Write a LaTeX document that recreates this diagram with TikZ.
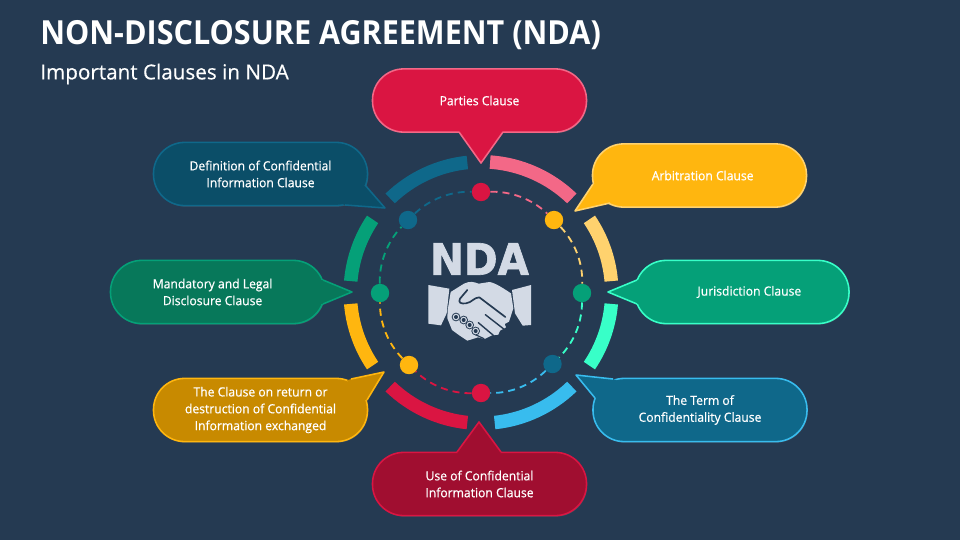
\documentclass[tikz,border=0pt]{standalone}
\usepackage{fontspec}
\setmainfont{Open Sans}
\newfontfamily\ndafont[FakeStretch=0.93, FakeBold=1.5]{DejaVu Sans Bold}
\newfontfamily\titlefont[FakeStretch=0.92]{Open Sans Bold}
\newfontfamily\subtitlefont[FakeBold=0.4]{Open Sans}
\newfontfamily\bubblefont[FakeBold=0.6, FakeStretch=0.96]{Open Sans}
\usepackage{xcolor}
\usetikzlibrary{calc, shadows}
\definecolor{slideBg}{RGB}{37, 58, 82}
\definecolor{handLight}{RGB}{211, 218, 229}
\definecolor{redMain}{RGB}{218, 21, 66}
\definecolor{redLine}{RGB}{243, 104, 135}
\definecolor{redDark}{RGB}{160, 14, 48}
\definecolor{amberMain}{RGB}{255, 182, 15}
\definecolor{amberLine}{RGB}{255, 210, 110}
\definecolor{amberDark}{RGB}{200, 138, 0}
\definecolor{jadeMain}{RGB}{5, 160, 120}
\definecolor{jadeLine}{RGB}{56, 255, 200}
\definecolor{jadeDark}{RGB}{7, 120, 90}
\definecolor{tealMain}{RGB}{15, 104, 138}
\definecolor{tealLine}{RGB}{56, 188, 238}
\definecolor{tealDark}{RGB}{11, 78, 104}
\tikzset{
  bubble/.style={draw, line width=1.1pt, rounded corners=0.78cm, minimum width=5.35cm, minimum height=1.58cm, align=center, text=white, font=\fontsize{9}{12}\selectfont\bubblefont, drop shadow={opacity=0.35, shadow xshift=0.5pt, shadow yshift=-0.7pt}},
  ringdot/.style={circle, inner sep=0pt, minimum size=0.46cm},
  ringdash/.style={line width=1.3pt, dash pattern=on 5pt off 3.6pt, bend left=22.5, looseness=0.88},
}
% tail of a bubble: fill over the node border, then stroke the two free sides
\newcommand{\bubbletail}[6]{
  \fill[#2] ($(#4)!3pt!(#1.center)$) -- (#4) -- (#5) -- (#6) -- ($(#6)!3pt!(#1.center)$) -- cycle;
  \draw[#3, line width=1.1pt, line join=round] (#4) -- (#5) -- (#6);
}
\begin{document}
\begin{tikzpicture}[x=0.025cm, y=-0.025cm]
    \useasboundingbox (0,0) rectangle (960,540);
    \fill[slideBg] (0,0) rectangle (960,540);
    % Heading
    \node[anchor=west, inner sep=0pt, text=white, font=\fontsize{23.6}{26}\selectfont\titlefont] (title) at (40,35) {NON-DISCLOSURE AGREEMENT (NDA)};
    \node[anchor=west, inner sep=0pt, text=white, font=\fontsize{14.7}{17}\selectfont\subtitlefont] (subtitle) at (40,74) {Important Clauses in NDA};
    % Outer ring segments
    \begin{scope}[shift={(481,292.5)}]
      \foreach \a/\b/\c in {-86/-46/redLine, -34/-5/amberLine, 5/34/jadeLine, 46/84/tealLine, 96/134/redMain, 146/175/amberMain, 185/214/jadeMain, 226/264/tealMain}
        \fill[\c] (\a:137.5) arc (\a:\b:137.5) -- (\b:124) arc (\b:\a:124) -- cycle;
    \end{scope}
    % Inner ring
    \node[ringdot, fill=redMain] (dotTop) at (481,192) {};
    \node[ringdot, fill=amberMain] (dotArb) at (554,220) {};
    \node[ringdot, fill=jadeMain] (dotJur) at (582,293) {};
    \node[ringdot, fill=tealMain] (dotTerm) at (552.5,364) {};
    \node[ringdot, fill=redMain] (dotUse) at (481,393) {};
    \node[ringdot, fill=amberMain] (dotRet) at (409,365) {};
    \node[ringdot, fill=jadeMain] (dotMan) at (380,293) {};
    \node[ringdot, fill=tealMain] (dotDef) at (408,220) {};
    \draw[ringdash, redLine] (dotTop) to (dotArb);
    \draw[ringdash, amberLine] (dotArb) to (dotJur);
    \draw[ringdash, jadeLine] (dotJur) to (dotTerm);
    \draw[ringdash, tealLine] (dotTerm) to (dotUse);
    \draw[ringdash, redMain] (dotUse) to (dotRet);
    \draw[ringdash, amberMain] (dotRet) to (dotMan);
    \draw[ringdash, jadeMain] (dotMan) to (dotDef);
    \draw[ringdash, tealMain] (dotDef) to (dotTop);
    % Centre
    \node[text=handLight, inner sep=0pt, font=\fontsize{31}{34}\selectfont\ndafont] (nda) at (479.5,259) {NDA};
    \begin{scope}[shift={(330,140)}, x=0.008333cm, y=-0.008333cm]
      \fill[handLight] (295,435) -- (358,446) -- (350,520) -- (333,556) -- (295,551) -- cycle;
      \fill[handLight] (603,435) -- (546,450) -- (555,520) -- (578,557) -- (603,555) -- cycle;
      \fill[handLight] (362,456) -- (402,431) .. controls (420,422) and (432,426) .. (446,431) -- (478,426) .. controls (495,428) and (520,445) .. (543,460) -- (550,505) -- (537,545) -- (524,552) -- (528,562) -- (510,572) -- (505,584) -- (486,586) -- (464,597) -- (444,592) -- (412,602) -- (388,586) -- (366,570) -- (352,535) -- (353,510) -- cycle;
      \draw[slideBg, line width=1.2pt, line cap=round, line join=round] (412,450) -- (390,476) .. controls (384,488) and (392,492) .. (408,490) .. controls (425,488) and (432,472) .. (448,472) -- (526,531);
      \draw[slideBg, line width=1pt, line cap=round] (466,524) -- (520,566);
      \draw[slideBg, line width=1pt, line cap=round] (445,548) -- (490,586);
      \draw[slideBg, line width=0.8pt, line cap=round] (432,582) -- (462,596);
      \foreach \x/\y in {378/531, 401/540, 419/555, 437/573}
        \fill[slideBg] (\x,\y) circle (13);
      \foreach \x/\y in {378/531, 401/540, 419/555, 437/573}
        \fill[handLight] (\x,\y) circle (10);
      \foreach \x/\y in {378/531, 401/540, 419/555, 437/573}
        \fill[slideBg] (\x,\y) circle (6);
    \end{scope}
    % Bubbles
    \node[bubble, fill=redMain, draw=redLine] (parties) at (479.5,100.5) {Parties Clause};
    \bubbletail{parties}{redMain}{redLine}{459,132}{481,163}{503,132}
    \node[bubble, fill=amberMain, draw=amberLine] (arb) at (699.5,175.5) {\hspace*{4.5pt}Arbitration Clause};
    \bubbletail{arb}{amberMain}{amberLine}{593,184}{575,211}{610,203}
    \node[bubble, fill=jadeMain, draw=jadeLine] (jur) at (742,292) {\hspace*{10.5pt}Jurisdiction Clause};
    \bubbletail{jur}{jadeMain}{jadeLine}{637,280}{608,292}{637,304}
    \node[bubble, fill=tealMain, draw=tealLine] (term) at (700,410) {The Term of\\Confidentiality Clause};
    \bubbletail{term}{tealMain}{tealLine}{613,379}{576,375}{595,398}
    \node[bubble, fill=redDark, draw=redMain] (use) at (479.5,484) {Use of Confidential\\Information Clause};
    \bubbletail{use}{redDark}{redMain}{457,452}{479,422}{501,452}
    \node[bubble, fill=amberDark, draw=amberMain] (ret) at (260.5,410) {The Clause on return or\\destruction of Confidential\\Information exchanged};
    \bubbletail{ret}{amberDark}{amberMain}{351,379}{384,372}{367,400}
    \node[bubble, fill=jadeDark, draw=jadeMain] (man) at (217.5,292) {Mandatory and Legal\hspace*{7pt}\\Disclosure Clause\hspace*{7pt}};
    \bubbletail{man}{jadeDark}{jadeMain}{323,280}{352,292}{323,304}
    \node[bubble, fill=tealDark, draw=tealMain] (def) at (260.5,174) {Definition of Confidential\\Information Clause};
    \bubbletail{def}{tealDark}{tealMain}{365,185}{385,208}{345,205}
  \end{tikzpicture}
\end{document}
